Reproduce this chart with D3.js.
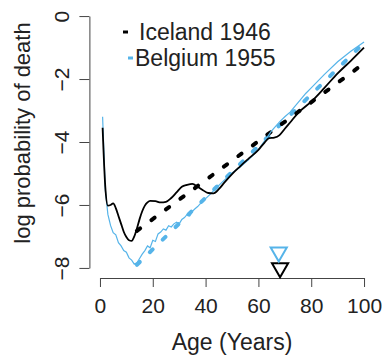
<!DOCTYPE html>
<html>
<head>
<meta charset="utf-8">
<script src="https://cdn.jsdelivr.net/npm/d3@7"></script>
<style>
  body { margin: 0; background: #fff; }
  svg text { font-family: "Liberation Sans", Arial, sans-serif; fill: #222; }
</style>
</head>
<body>
<div id="chart"></div>
<script>
// observed log death probability, Iceland 1946
const icelandAges = [1, 2, 3, 4, 5, 6, 7, 8, 9, 10, 11, 12, 13, 14, 15, 16, 17, 18, 19, 21, 23, 25, 27, 29, 31, 33, 35, 37, 39, 41, 43, 45, 47, 50, 53, 56, 60, 62, 64, 66, 68, 70, 72, 75, 80, 85, 90, 95, 100];
const icelandObs = [-3.55, -5.4, -6.02, -6.0, -5.95, -6.1, -6.35, -6.6, -6.85, -7.02, -7.12, -7.14, -7.0, -6.75, -6.45, -6.2, -6.02, -5.92, -5.87, -5.88, -5.92, -5.9, -5.78, -5.6, -5.42, -5.36, -5.33, -5.42, -5.53, -5.62, -5.63, -5.5, -5.3, -5.02, -4.78, -4.55, -4.25, -4.05, -3.88, -3.86, -3.78, -3.58, -3.38, -3.08, -2.72, -2.28, -1.82, -1.42, -1.0];

// observed log death probability, Belgium 1955
const belgiumAges = [1, 2, 3, 4, 5, 6, 7, 8, 9, 10, 11, 12, 13, 14, 15, 16, 17, 18, 19, 20, 21, 22, 23, 24, 25, 26, 27, 28, 29, 30, 31, 32, 33, 34, 35, 36, 37, 38, 39, 40, 42, 44, 46, 48, 50, 53, 56, 60, 62, 65, 68, 70, 72, 75, 78, 80, 85, 90, 95, 100];
const belgiumObs = [-3.2, -5.5, -6.3, -6.65, -6.88, -6.95, -7.2, -7.3, -7.45, -7.5, -7.68, -7.75, -7.88, -7.84, -7.7, -7.56, -7.45, -7.3, -7.36, -7.12, -7.16, -6.92, -6.86, -6.76, -6.8, -6.66, -6.7, -6.6, -6.55, -6.6, -6.46, -6.4, -6.3, -6.35, -6.2, -6.12, -6.05, -5.96, -5.9, -5.8, -5.64, -5.46, -5.3, -5.14, -4.98, -4.8, -4.58, -4.25, -4.0, -3.65, -3.36, -3.2, -3.05, -2.75, -2.45, -2.28, -1.85, -1.45, -1.12, -0.82];

// fitted (Gompertz) lines, end points
const fitAges = [14, 100];
const icelandFit = [-6.82, -1.5];
const belgiumFit = [-7.9, -0.85];

// marker ages (triangles) and their heights
const markerAges = [68.2, 67.7];
const markerVals = [-8, -7.5];

const seriesNames = ["Iceland 1946", "Belgium 1955"];
const seriesColors = ["#000000", "#56B4E9"];

const xTicks = [0, 20, 40, 60, 80, 100];
const yTicks = [-8, -6, -4, -2, 0];

const width = 383;
const height = 358;

const svg = d3.select("#chart")
    .append("svg")
    .attr("width", width)
    .attr("height", height);

const x = d3.scaleLinear().domain([-4, 104]).range([89.4, 374.6]);
const y = d3.scaleLinear().domain([-8.32, 0.32]).range([278, 6]);

// axes only span the tick range, R style
const xAxisScale = d3.scaleLinear().domain([0, 100]).range([x(0), x(100)]);
const yAxisScale = d3.scaleLinear().domain([-8, 0]).range([y(-8), y(0)]);

const xAxis = svg.append("g")
    .attr("transform", "translate(0," + y.range()[0] + ")")
    .call(d3.axisBottom(xAxisScale).tickValues(xTicks).tickSize(9).tickSizeOuter(0).tickPadding(11));

xAxis.selectAll("text").attr("font-size", 21);

const yAxis = svg.append("g")
    .attr("transform", "translate(" + x.range()[0] + ",0)")
    .call(d3.axisLeft(yAxisScale).tickValues(yTicks).tickSize(10).tickSizeOuter(0));

yAxis.selectAll("text")
    .attr("x", 0)
    .attr("y", -20)
    .attr("dy", 0)
    .attr("text-anchor", "middle")
    .attr("transform", "rotate(-90)")
    .attr("font-size", 21);

svg.selectAll(".domain, .tick line").attr("stroke", "#444");

// axis titles
svg.append("text")
    .attr("x", (x(0) + x(100)) / 2)
    .attr("y", 350)
    .attr("text-anchor", "middle")
    .attr("font-size", 23)
    .text("Age (Years)");

svg.append("text")
    .attr("transform", "translate(30,133) rotate(-90)")
    .attr("text-anchor", "middle")
    .attr("font-size", 22)
    .text("log probability of death");

const line = d3.line()
    .x(d => x(d[0]))
    .y(d => y(d[1]));

const smooth = d3.line()
    .x(d => x(d[0]))
    .y(d => y(d[1]))
    .curve(d3.curveMonotoneX);

// fitted dashed lines
svg.append("path")
    .datum(d3.zip(fitAges, belgiumFit))
    .attr("d", line)
    .attr("fill", "none")
    .attr("stroke", seriesColors[1])
    .attr("stroke-width", 4)
    .attr("stroke-linecap", "round")
    .attr("stroke-dasharray", "4,14");

svg.append("path")
    .datum(d3.zip(fitAges, icelandFit))
    .attr("d", line)
    .attr("fill", "none")
    .attr("stroke", seriesColors[0])
    .attr("stroke-width", 4)
    .attr("stroke-linecap", "round")
    .attr("stroke-dasharray", "4,14");

// observed curves
svg.append("path")
    .datum(d3.zip(belgiumAges, belgiumObs))
    .attr("d", line)
    .attr("fill", "none")
    .attr("stroke", seriesColors[1])
    .attr("stroke-width", 1.2);

svg.append("path")
    .datum(d3.zip(icelandAges, icelandObs))
    .attr("d", smooth)
    .attr("fill", "none")
    .attr("stroke", seriesColors[0])
    .attr("stroke-width", 1.8);

// down-pointing triangles
svg.selectAll(".marker")
    .data(d3.zip(markerAges, markerVals, seriesColors))
    .enter()
    .append("path")
    .attr("class", "marker")
    .attr("d", d3.symbol(d3.symbolTriangle).size(113))
    .attr("transform", d => "translate(" + x(d[0]) + "," + y(d[1]) + ") rotate(180)")
    .attr("fill", "none")
    .attr("stroke", d => d[2])
    .attr("stroke-width", 2);

// legend
const legendX = [123, 128];
const legendTextX = [139, 135];
const legendY = [32, 58];

const legend = svg.selectAll(".legend")
    .data(seriesNames)
    .enter()
    .append("g")
    .attr("class", "legend");

legend.append("line")
    .attr("x1", (d, i) => legendX[i])
    .attr("x2", (d, i) => legendX[i] + 5)
    .attr("y1", (d, i) => legendY[i])
    .attr("y2", (d, i) => legendY[i])
    .attr("stroke", (d, i) => seriesColors[i])
    .attr("stroke-width", 3);

legend.append("text")
    .attr("x", (d, i) => legendTextX[i])
    .attr("y", (d, i) => legendY[i] + 8)
    .attr("font-size", 23)
    .text(d => d);
</script>
</body>
</html>
